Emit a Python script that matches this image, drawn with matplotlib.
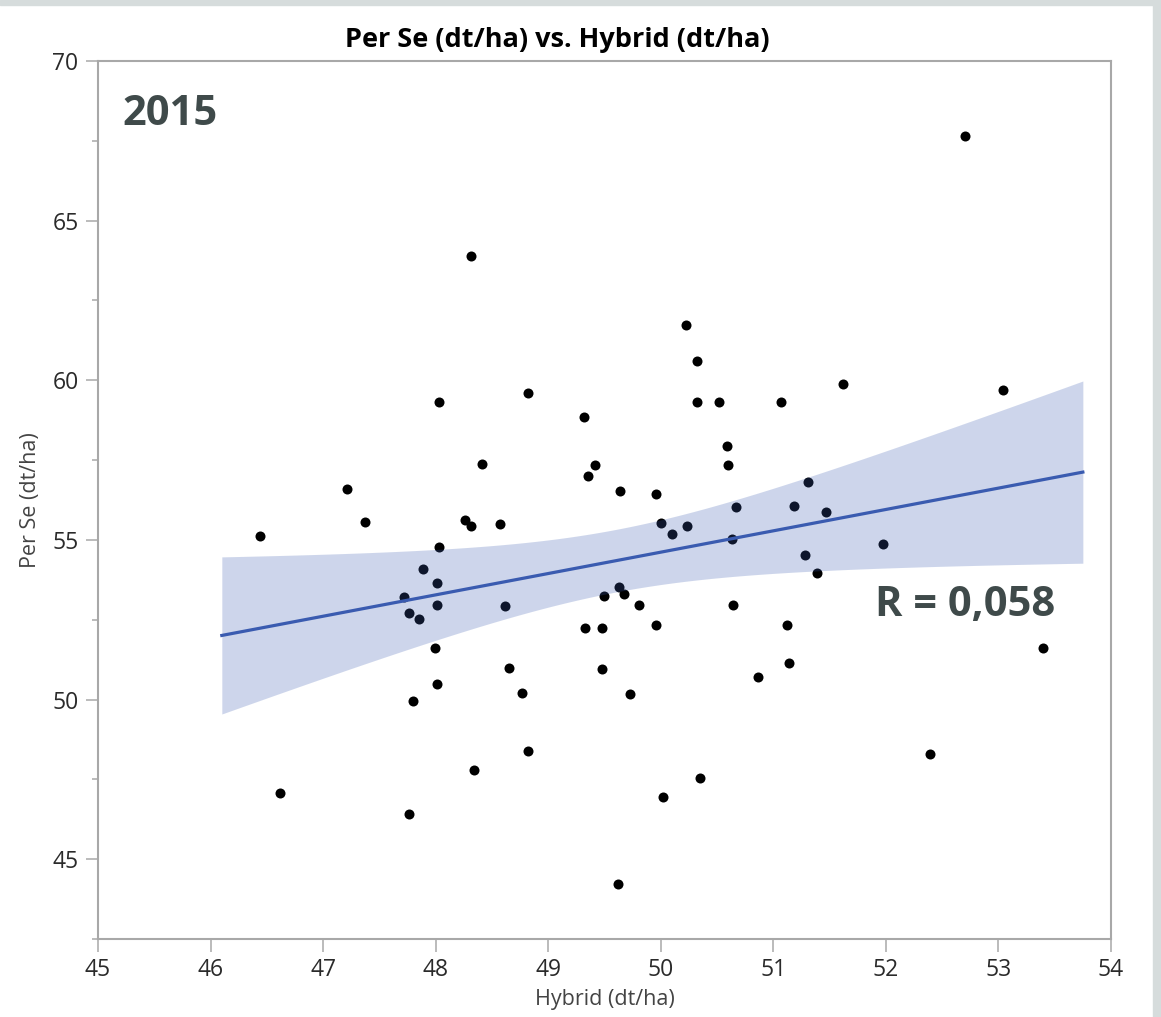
import numpy as np
import matplotlib
matplotlib.use("Agg")
import matplotlib.pyplot as plt
from matplotlib.patches import Rectangle
from matplotlib.ticker import MultipleLocator

plt.rcParams['font.family'] = ['Open Sans', 'DejaVu Sans']

# Hybrid (dt/ha) and Per Se (dt/ha) for each line, 2015
hybrid = [48.03, 48.82, 48.41, 47.21, 47.37, 46.44, 48.26, 48.31, 48.57, 48.03,
          47.89, 48.01, 47.72, 48.01, 48.62, 47.76, 47.85, 47.99, 48.65, 48.01,
          48.77, 47.80, 48.82, 48.34, 46.62, 47.76, 48.31,
          50.22, 50.32, 51.62, 50.32, 50.52, 51.07, 49.32, 50.59, 50.60, 49.42,
          49.35, 49.64, 49.96, 51.31, 50.67, 51.18, 51.47, 50.00, 50.23, 50.10,
          50.63, 51.28, 51.39, 49.63, 49.50, 49.67, 49.81, 50.64, 49.33, 49.48,
          49.96, 51.12, 49.48, 51.14, 50.86, 49.73, 50.35, 50.02, 49.62,
          52.70, 53.04, 51.97, 53.40, 52.39]
per_se = [59.32, 59.60, 57.37, 56.59, 55.56, 55.12, 55.62, 55.43, 55.50, 54.77,
          54.09, 53.65, 53.21, 52.96, 52.93, 52.71, 52.52, 51.61, 50.98, 50.48,
          50.20, 49.95, 48.38, 47.79, 47.07, 46.41, 63.89,
          61.73, 60.60, 59.88, 59.32, 59.32, 59.32, 58.85, 57.94, 57.34, 57.34,
          57.00, 56.53, 56.43, 56.81, 56.03, 56.06, 55.87, 55.53, 55.43, 55.18,
          55.03, 54.52, 53.96, 53.52, 53.24, 53.30, 52.96, 52.96, 52.24, 52.24,
          52.33, 52.33, 50.95, 51.14, 50.70, 50.17, 47.54, 46.94, 44.22,
          67.65, 59.69, 54.87, 51.61, 48.29]

fit_range = [46.1, 53.75]
t_975 = 1.995  # two-sided 95 %, df = n - 2
r_label = "R = 0,058"
year = "2015"

x = np.array(hybrid)
y = np.array(per_se)
n = len(x)
slope, intercept = np.polyfit(x, y, 1)
resid = y - (slope * x + intercept)
s_err = np.sqrt(np.sum(resid ** 2) / (n - 2))
sxx = np.sum((x - x.mean()) ** 2)

xs = np.linspace(fit_range[0], fit_range[1], 200)
ys = slope * xs + intercept
half = t_975 * s_err * np.sqrt(1.0 / n + (xs - x.mean()) ** 2 / sxx)

fig = plt.figure(figsize=(11.61, 10.17), dpi=100)
ax = fig.add_axes([98 / 1161, 1 - 939 / 1017, 1013 / 1161, 878 / 1017])

line_col = '#3a5bb0'
ax.scatter(x, y, s=52, color='black', zorder=2, linewidths=0)
ax.fill_between(xs, ys - half, ys + half, color=line_col, alpha=0.25,
                linewidth=0, zorder=3)
ax.plot(xs, ys, color=line_col, linewidth=2.3, zorder=4)

ax.set_xlim(45, 54)
ax.set_ylim(42.5, 70)
ax.xaxis.set_major_locator(MultipleLocator(1))
ax.yaxis.set_major_locator(MultipleLocator(5))
ax.yaxis.set_minor_locator(MultipleLocator(2.5))

for sp in ax.spines.values():
    sp.set_color('#a8a8a8')
    sp.set_linewidth(1.5)
ax.tick_params(which='major', length=9, width=1.1, color='#a8a8a8',
               labelsize=16.5, labelcolor='#2a2a2a', pad=5)
ax.tick_params(which='minor', length=4.5, width=1.1, color='#a8a8a8')

ax.set_xlabel("Hybrid (dt/ha)", fontsize=15.5, color='#444444', labelpad=5)
ax.set_ylabel("Per Se (dt/ha)", fontsize=15.5, color='#444444', labelpad=8)

fig.text(557 / 1161, 1 - 40 / 1017, "Per Se (dt/ha) vs. Hybrid (dt/ha)",
         ha='center', va='center', fontsize=19.5, fontweight='bold', color='black')

ax.text(0.0237, 0.927, year, transform=ax.transAxes, fontsize=30,
        fontweight='bold', color='#3f4a4a', va='baseline', ha='left')
ax.text(0.767, 0.368, r_label, transform=ax.transAxes, fontsize=30,
        fontweight='bold', color='#3f4a4a', va='baseline', ha='left')

# light grey frame along the top and right edge
frame_col = '#d6dcdc'
fig.patches.append(Rectangle((0, 1 - 5 / 1017), 1, 5 / 1017,
                             transform=fig.transFigure, color=frame_col))
fig.patches.append(Rectangle((1153 / 1161, 0), 8 / 1161, 1,
                             transform=fig.transFigure, color=frame_col))

fig.savefig("out.png", dpi=100)
